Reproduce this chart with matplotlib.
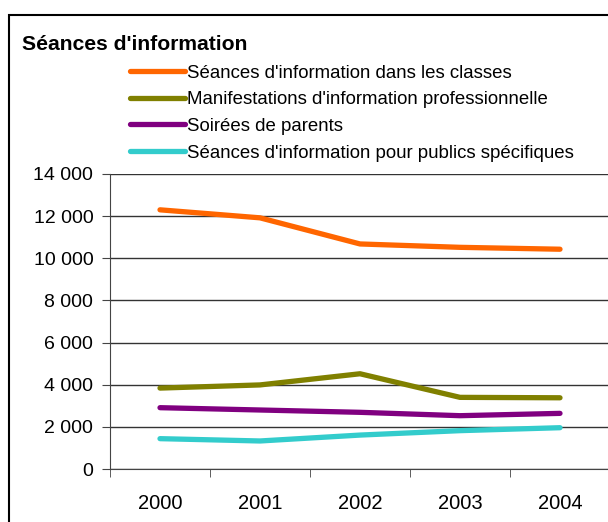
import matplotlib.pyplot as plt
from matplotlib.patches import Rectangle
from matplotlib.ticker import FuncFormatter

plt.rcParams['font.family'] = ['Liberation Sans', 'DejaVu Sans']

# Données
years = ['2000', '2001', '2002', '2003', '2004']
classes = [12300, 11920, 10680, 10520, 10430]
manifestations = [3840, 3990, 4520, 3400, 3380]
soirees = [2910, 2800, 2690, 2530, 2640]
publics = [1440, 1330, 1610, 1820, 1960]

labels = ["Séances d'information dans les classes",
          "Manifestations d'information professionnelle",
          "Soirées de parents",
          "Séances d'information pour publics spécifiques"]
colors = ['#FF6600', '#808000', '#800080', '#33CCCC']

fig = plt.figure(figsize=(6.08, 5.22), dpi=100)

# cadre extérieur
fig.patches.append(Rectangle((9 / 608, -0.1), 1.2, 1 - 15 / 522 + 0.1,
                             transform=fig.transFigure, fill=False,
                             edgecolor='black', linewidth=1.5))

ax = fig.add_axes([110 / 608, 1 - 469 / 522, 500 / 608, (469 - 174) / 522])

x = range(len(years))
lines = []
for serie, c in zip([classes, manifestations, soirees, publics], colors):
    l, = ax.plot(x, serie, color=c, linewidth=3.8, solid_capstyle='round')
    lines.append(l)

ax.set_xlim(-0.5, 4.5)
ax.set_ylim(0, 14000)
ax.set_yticks(range(0, 14001, 2000))
ax.yaxis.set_major_formatter(FuncFormatter(lambda v, p: f'{int(v):,}'.replace(',', ' ')))
ax.set_xticks(list(x))
ax.set_xticklabels(years)
ax.set_xticks([i - 0.5 for i in range(6)], minor=True)
ax.tick_params(axis='x', which='major', length=0, pad=18, labelsize=14.5)
ax.tick_params(axis='x', which='minor', length=6, color='#444444')
ax.tick_params(axis='y', length=6, color='#444444', labelsize=14, pad=6)
ax.grid(axis='y', color='#333333', linewidth=1)
ax.set_axisbelow(True)
for s in ['top', 'right']:
    ax.spines[s].set_visible(False)
ax.spines['left'].set_color('#444444')
ax.spines['bottom'].set_color('#444444')

fig.text(22 / 608, 1 - 44 / 522, "Séances d'information", fontsize=15.2,
         fontweight='bold', va='center', ha='left')

fig.legend(lines, labels, loc='upper left', bbox_to_anchor=(130 / 608, 1 - 64.5 / 522),
           frameon=False, fontsize=13.4, handlelength=2.95, handletextpad=0.12,
           labelspacing=0.52, borderaxespad=0, borderpad=0)

plt.savefig('out.png', dpi=100)
